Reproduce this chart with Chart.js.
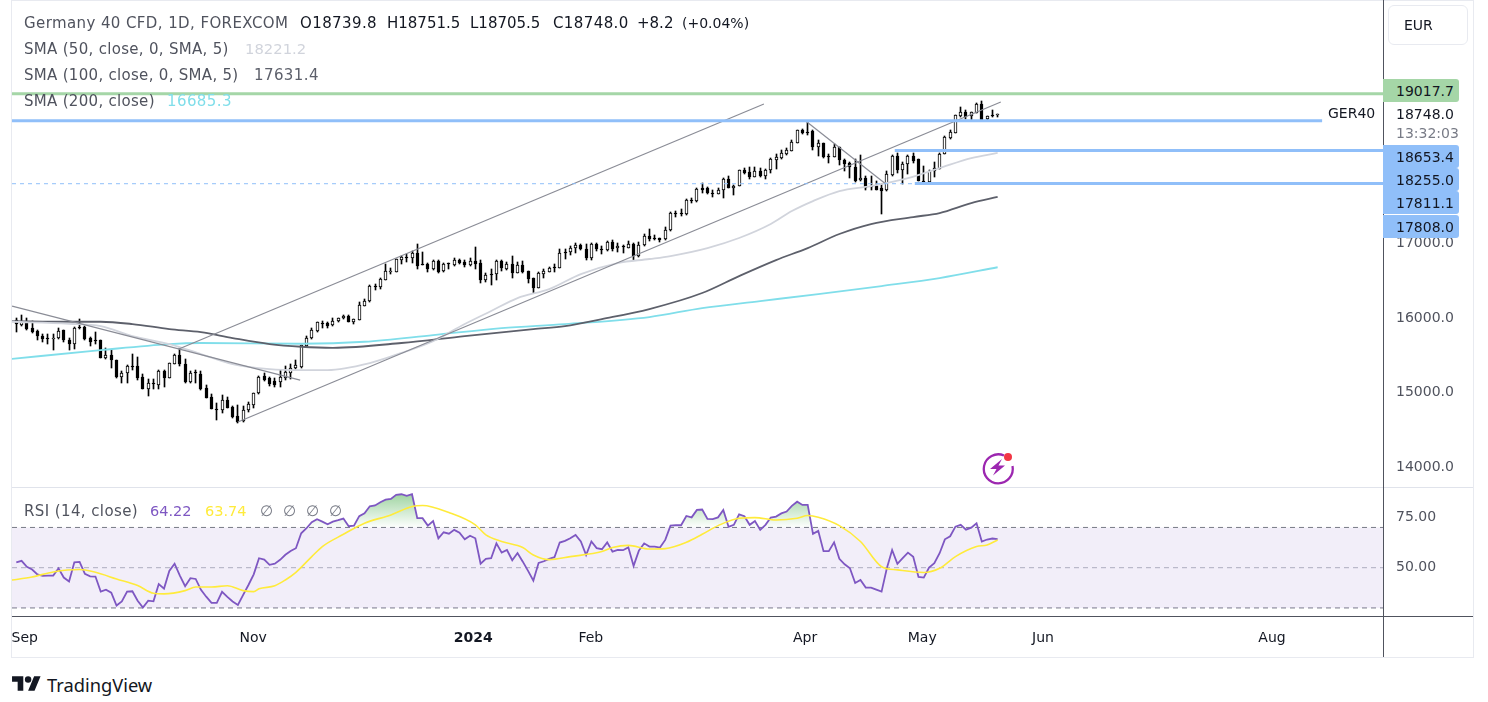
<!DOCTYPE html>
<html><head><meta charset="utf-8">
<script src="https://cdn.jsdelivr.net/npm/chart.js@4"></script>
<style>
html,body{margin:0;padding:0;background:#fff;width:1488px;height:702px;overflow:hidden}
body{position:relative;font-family:"DejaVu Sans",sans-serif;color:#131722}
canvas{position:absolute;display:block}
.t{position:absolute;white-space:nowrap;font-size:14px;line-height:20px;color:#50535e}
.line{position:absolute}
.tag{position:absolute;left:1383px;width:76px;height:23px;line-height:25px;font-size:14px;color:#131722;text-indent:13px;border-radius:0 3px 3px 0}
</style></head><body>
<canvas id="priceCanvas" style="left:12px;top:0" width="1461" height="487"></canvas>
<canvas id="rsiCanvas" style="left:12px;top:488px" width="1461" height="169"></canvas>
<div id="overlay"></div>
<script>
const opens=[15971,15909,15953,15873,15828,15761,15729,15729,15734,15837,15712,15649,15877,15886,15738,15707,15712,15465,15505,15434,15214,15264,15353,15353,15210,15053,15125,15102,15290,15192,15389,15505,15380,15147,15277,15250,15062,14936,14780,14771,14901,14807,14686,14618,14762,14838,14990,15219,15196,15156,15147,15201,15268,15326,15349,15626,15729,15828,15935,15931,15904,15957,15998,16029,15953,15980,16168,16226,16428,16423,16518,16630,16625,16786,16827,16804,16871,16728,16728,16656,16768,16630,16737,16710,16782,16759,16710,16768,16742,16513,16598,16589,16768,16665,16724,16612,16715,16630,16535,16410,16598,16625,16688,16679,16894,16885,16939,16983,16930,16813,16992,16930,16912,17024,16943,16974,16948,17001,16831,16979,17100,17082,17073,17059,17180,17409,17413,17400,17593,17570,17745,17749,17682,17673,17718,17866,17754,17776,17996,17960,17897,17973,17906,17991,18130,18153,18211,18251,18359,18524,18506,18515,18305,18359,18179,18170,18300,18121,18090,18027,17852,17888,17772,17772,17749,17718,17924,18179,17996,18067,18175,18135,17848,17834,17973,18009,18202,18426,18489,18717,18766,18717,18757,18874,18672,18726,18739.8];
const highs=[15998,16043,15998,15962,15837,15792,15792,15792,15873,15837,15738,15882,15989,15895,15747,15815,15712,15595,15568,15434,15290,15367,15514,15479,15255,15178,15178,15299,15299,15402,15523,15595,15447,15290,15299,15290,15102,14977,14856,14968,14941,14816,14833,14816,14878,14999,15223,15268,15210,15192,15299,15358,15380,15434,15635,15760,15863,15953,15962,15944,15998,16007,16043,16038,15993,16217,16253,16441,16455,16544,16733,16670,16800,16831,16858,16903,16992,16894,16737,16777,16777,16742,16746,16809,16795,16782,16804,16957,16786,16612,16656,16777,16777,16759,16836,16759,16768,16630,16535,16616,16656,16692,16724,16925,16925,16974,17010,17001,16992,17010,17010,16966,17033,17055,17010,16983,17037,17010,17028,17127,17194,17118,17082,17225,17422,17440,17463,17601,17619,17754,17812,17763,17727,17745,17879,17911,17790,17991,18023,18032,18036,18014,18005,18148,18202,18256,18291,18399,18529,18538,18641,18524,18394,18359,18211,18336,18305,18135,18103,18135,18193,17911,17911,17843,17807,17978,18188,18215,18103,18193,18220,18135,18045,17987,18103,18220,18448,18524,18730,18838,18793,18766,18892,18919,18721,18793,18751.5];
const lows=[15819,15895,15837,15801,15703,15680,15658,15577,15716,15685,15568,15591,15850,15703,15626,15649,15461,15447,15335,15192,15134,15134,15299,15165,15044,14954,15044,15044,15075,15192,15380,15358,15134,15134,15134,15031,14923,14775,14632,14730,14789,14663,14596,14609,14744,14798,14977,15156,15093,15075,15075,15174,15178,15313,15326,15613,15720,15819,15863,15872,15895,15953,15984,15949,15926,15980,16164,16222,16383,16392,16509,16589,16625,16733,16759,16746,16665,16719,16625,16652,16603,16625,16656,16706,16724,16692,16706,16661,16473,16491,16450,16518,16634,16643,16544,16607,16612,16477,16338,16405,16535,16616,16625,16674,16791,16849,16871,16916,16786,16786,16903,16858,16903,16903,16894,16871,16939,16786,16822,16966,17037,17046,17028,17055,17171,17364,17377,17391,17548,17566,17687,17669,17628,17664,17619,17745,17655,17772,17942,17866,17893,17897,17870,17951,18000,18135,18193,18247,18354,18480,18462,18260,18179,18157,18085,18166,18058,17978,17888,17834,17848,17718,17727,17718,17404,17713,17911,17955,17799,17942,18085,17843,17821,17825,17897,18005,18202,18412,18484,18704,18672,18650,18753,18650,18668,18704,18705.5];
const closes=[15918,15949,15850,15815,15756,15716,15720,15738,15824,15703,15649,15868,15868,15716,15685,15698,15470,15501,15434,15210,15259,15358,15344,15201,15053,15125,15111,15290,15192,15393,15505,15380,15143,15264,15268,15044,14932,14784,14771,14896,14798,14672,14609,14762,14847,14990,15214,15174,15116,15102,15205,15272,15326,15367,15635,15729,15841,15944,15926,15895,15957,15998,16029,15953,15984,16177,16231,16432,16419,16526,16630,16638,16791,16822,16809,16876,16701,16724,16656,16768,16625,16733,16728,16786,16746,16710,16768,16733,16513,16580,16589,16768,16670,16728,16612,16715,16621,16531,16401,16607,16634,16674,16674,16871,16876,16943,16988,16925,16804,17001,16925,16912,17024,16930,16970,16966,16992,16831,16983,17109,17068,17073,17055,17185,17413,17400,17404,17588,17584,17740,17722,17678,17673,17722,17866,17754,17781,17987,17955,17897,17978,17911,17996,18139,18161,18220,18256,18363,18524,18493,18497,18305,18354,18170,18170,18305,18121,18076,18032,17843,17879,17754,17763,17727,17713,17933,18175,17991,18072,18179,18112,17843,17839,17978,18014,18211,18439,18502,18726,18766,18704,18766,18878,18668,18713,18717,18748.0];

const sma50Idx=[-1,10,16,22,29,35,41,48,54,59,67,74,79,85,90,95,101,107,114,120,124,131,137,143,147,151,156,162,169,175,181,186];
const sma50Val=[15953,15926,15895,15761,15653,15519,15384,15317,15304,15304,15398,15559,15693,15922,16097,16271,16392,16594,16742,16796,16836,16943,17078,17266,17441,17575,17709,17777,17884,18019,18153,18221.2];
const sma100Idx=[-1,10,16,22,29,35,41,48,54,60,73,85,98,104,111,120,130,137,144,150,156,162,170,175,181,186];
const sma100Val=[15962,15953,15953,15922,15855,15814,15734,15653,15617,15603,15667,15761,15855,15895,15989,16124,16339,16567,16782,16943,17132,17266,17360,17414,17548,17631.4];
const sma200Idx=[-1,16,29,35,54,66,79,92,104,120,130,141,152,164,175,186];
const sma200Val=[15452,15572,15653,15667,15657,15684,15774,15868,15922,16016,16137,16231,16325,16433,16540,16685.3];

const trendA=[[30.8,15586],[141.7,18879]];
const trendB=[[42,14605],[186.6,18906]];
const trendC=[[-0.8,16164],[53.8,15169]];
const trendD=[[149.8,18641],[164.8,17804]];

const resistance=19017.7, levelA=18653.4, levelB=18255.0, levelC=17811.1, levelD=17808.0, lastClose=18748.0;
const priceTicks=[14000,15000,16000,17000];
const rsiTicks=[75,50];
const timeTickIdx=[1.6,44.9,86.6,108.9,149.5,171.7,194.6,238];
const timeTickLabels=['Sep','Nov','2024','Feb','Apr','May','Jun','Aug'];

const rsiVal=[52.7,53.4,50.4,49.1,46.7,45.9,46.1,46.1,49.7,45.1,43.1,52.7,52.9,46.9,45.7,45.6,38.1,39.1,37.6,31.2,33.2,38.1,38.3,33.6,30.2,33.6,33.3,41.9,39.6,48.4,52.0,46.1,40.8,44.8,44.4,39.0,35.6,32.5,32.5,38.0,35.5,33.2,31.5,36.5,41.4,46.7,54.7,54.0,51.4,52.0,53.9,56.4,58.3,59.7,67.1,69.6,72.6,74.1,72.9,71.6,72.9,73.6,74.4,70.6,70.9,75.6,77.0,80.5,80.9,82.5,83.8,84.2,86.2,86.5,85.7,86.5,74.6,74.6,70.9,73.2,64.6,67.6,66.9,68.8,67.4,64.1,65.9,64.6,52.0,54.4,54.7,62.1,57.5,58.8,53.7,57.3,53.0,48.4,43.6,52.4,53.2,54.4,55.2,62.5,63.3,64.6,66.3,63.0,56.3,63.0,59.7,59.2,62.6,58.0,58.8,58.7,60.1,50.9,58.5,62.1,60.5,60.5,60.0,63.8,70.9,71.1,71.1,75.7,75.0,78.7,78.9,74.2,74.1,75.0,78.7,70.3,71.3,76.5,75.6,71.3,73.2,68.8,71.3,74.9,75.4,77.0,77.9,80.7,82.8,81.2,81.2,66.8,68.3,58.2,58.2,62.6,54.4,51.7,49.7,42.4,43.9,40.1,40.1,39.1,38.1,49.7,58.8,51.9,54.7,57.5,55.4,45.4,45.1,50.1,52.2,57.2,64.1,65.6,70.4,71.3,68.9,69.9,72.1,63.0,64.0,64.5,64.22];
const rsiMaIdx=[-1,3,7,12,15,19,23,26,28,32,34,37,40,43,45,46,49,51,53,56,58,62,66,71,75,77,82,87,89,92,96,98,101,105,111,113,116,120,123,127,130,133,137,140,144,148,150,152,156,160,164,167,172,175,178,182,184,186];
const rsiMaVal=[43.8,45.4,47.9,49.1,47.7,44.4,41.1,37.3,37.0,38.6,40.4,40.4,41.0,38.6,38.1,39.5,41.0,43.9,47.7,55.5,60.5,66.6,72.1,76.2,80.4,80.9,77.4,71.3,66.3,63.0,60.0,56.3,54.0,55.5,58.0,60.0,61.1,59.3,59.5,62.6,66.6,70.9,74.6,74.9,73.7,74.6,75.9,75.1,70.9,63.0,50.5,48.9,47.6,49.7,55.5,60.5,61.3,63.74];
const rsiBand=[70,50,30];

const FONT='"DejaVu Sans",sans-serif';
const xMin=-0.815,xMax=259.04;
const pts=(xs,ys)=>xs.map((x,i)=>({x,y:ys[i]}));
const seg=a=>a.map(p=>({x:p[0],y:p[1]}));
const hline=(v,a,b)=>[{x:a,y:v},{x:b,y:v}];
const lineDs=(data,color,width,order,extra)=>Object.assign({type:'line',data,borderColor:color,borderWidth:width,pointRadius:0,order,fill:false,tension:0},extra||{});

const snap={id:'snap',afterDatasetsUpdate(chart){
  chart.data.datasets.forEach((d,di)=>{
    if(d.type==='line')return;
    chart.getDatasetMeta(di).data.forEach(el=>{
      el.x=Math.floor(el.x)+0.5;
      el.y=Math.round(el.y);el.base=Math.round(el.base);
      if(el.y===el.base)el.base=el.y+1;
    });
  });
}};

const hideX={type:'linear',min:xMin,max:xMax,offset:false,display:false,grid:{display:false}};
const fitY=s=>{s.width=90;s.paddingTop=0;s.paddingBottom=0;};

new Chart(document.getElementById('priceCanvas'),{
  type:'bar',
  plugins:[snap],
  data:{datasets:[
    lineDs(hline(resistance,xMin,xMax),'#a5d6a7',3,0),
    lineDs(hline(levelA,xMin,247.5),'#90bff9',3,0),
    lineDs(hline(levelB,166.5,xMax),'#90bff9',3,0),
    lineDs(hline(levelC,170.3,xMax),'#90bff9',3,0),
    lineDs(hline(levelD,xMin,170.3),'#90bff9',1,0,{borderDash:[4,4]}),
    lineDs(seg(trendA),'#8a8c96',1.2,1),
    lineDs(seg(trendB),'#8a8c96',1.2,1),
    lineDs(seg(trendC),'#8a8c96',1.2,1),
    lineDs(seg(trendD),'#8a8c96',1.2,1),
    lineDs(pts(sma50Idx,sma50Val),'#d1d4dc',1.8,2,{cubicInterpolationMode:'monotone'}),
    lineDs(pts(sma100Idx,sma100Val),'#5d606b',1.8,2,{cubicInterpolationMode:'monotone'}),
    lineDs(pts(sma200Idx,sma200Val),'#80deea',1.8,2,{cubicInterpolationMode:'monotone'}),
    {type:'bar',data:opens.map((o,i)=>({x:i,y:[o,closes[i]]})),barThickness:3,grouped:false,borderSkipped:false,borderWidth:1,borderColor:'#000',
      backgroundColor:opens.map((o,i)=>closes[i]>=o?'#fff':'#000'),order:3},
    {type:'bar',data:lows.map((l,i)=>({x:i,y:[l,highs[i]]})),barThickness:1,grouped:false,borderSkipped:false,borderWidth:0,backgroundColor:'#000',order:4}
  ]},
  options:{
    responsive:false,animation:false,devicePixelRatio:1,
    layout:{padding:0},
    plugins:{legend:{display:false},tooltip:{enabled:false}},
    scales:{
      x:hideX,
      y:{type:'linear',position:'right',min:13732,max:20277,
        grid:{display:false},border:{display:false},
        afterFit:fitY,
        afterBuildTicks:s=>{s.ticks=priceTicks.map(v=>({value:v}));},
        ticks:{autoSkip:false,padding:5,color:'#50535e',font:{family:FONT,size:14},callback:v=>v.toFixed(1)}
      }
    }
  }
});

const rsiCv=document.getElementById('rsiCanvas');
const grad=rsiCv.getContext('2d').createLinearGradient(0,5,0,40);
grad.addColorStop(0,'rgba(76,175,80,0.55)');
grad.addColorStop(1,'rgba(76,175,80,0)');

new Chart(rsiCv,{
  type:'line',
  data:{datasets:[
    lineDs(rsiVal.map((v,i)=>({x:i,y:v})),'#7e57c2',1.8,0,{fill:{value:rsiBand[0],above:grad,below:'rgba(0,0,0,0)'}}),
    lineDs(pts(rsiMaIdx,rsiMaVal),'#ffeb3b',1.6,-1,{cubicInterpolationMode:'monotone'}),
    lineDs(hline(rsiBand[0],xMin,xMax),'#787b86',1,2,{borderDash:[5,4],fill:'+2',backgroundColor:'rgba(126,87,194,0.1)'}),
    lineDs(hline(rsiBand[1],xMin,xMax),'#b2b5be',1,2,{borderDash:[5,4]}),
    lineDs(hline(rsiBand[2],xMin,xMax),'#787b86',1,2,{borderDash:[5,4]})
  ]},
  options:{
    responsive:false,animation:false,devicePixelRatio:1,
    layout:{padding:0},
    plugins:{legend:{display:false},tooltip:{enabled:false}},
    scales:{
      x:{type:'linear',min:xMin,max:xMax,offset:false,grid:{display:false},border:{display:false},
        afterFit:s=>{s.height=41;s.paddingLeft=0;s.paddingRight=0;},
        afterBuildTicks:s=>{s.ticks=timeTickIdx.map(v=>({value:v}));},
        ticks:{autoSkip:false,maxRotation:0,padding:6,color:'#131722',
          font:c=>({family:FONT,size:14,weight:c.index===2?'bold':'normal'}),
          callback:(v,i)=>timeTickLabels[i]}
      },
      y:{type:'linear',position:'right',min:26.0,max:89.6,grid:{display:false},border:{display:false},
        afterFit:fitY,
        afterBuildTicks:s=>{s.ticks=rsiTicks.map(v=>({value:v}));},
        ticks:{autoSkip:false,padding:5,color:'#50535e',font:{family:FONT,size:14},callback:v=>v.toFixed(2)}
      }
    }
  }
});

const ov=document.getElementById('overlay');
function text(x,cy,s,color,extra){const d=document.createElement('div');d.className='t';d.textContent=s;
  d.style.left=x+'px';d.style.top=(cy-10)+'px';if(color)d.style.color=color;if(extra)Object.assign(d.style,extra);ov.appendChild(d);}
function rule(l,t,w,h,c){const d=document.createElement('div');d.className='line';Object.assign(d.style,{left:l+'px',top:t+'px',width:w+'px',height:h+'px',background:c});ov.appendChild(d);}
function tag(top,v,c){const d=document.createElement('div');d.className='tag';d.textContent=v.toFixed(1);d.style.top=top+'px';d.style.background=c;ov.appendChild(d);}

rule(11,0,1,658,'#e8eaf0');rule(11,0,1463,1,'#e8eaf0');rule(1473,0,1,658,'#e8eaf0');rule(11,657,1463,1,'#e8eaf0');
rule(12,487,1461,1,'#e0e3eb');
rule(12,616,1461,1,'#50535e');
rule(1383,0,1,657,'#50535e');

tag(79,resistance,'#a5d6a7');
tag(145,levelA,'#90bff9');tag(168,levelB,'#90bff9');tag(191,levelC,'#90bff9');tag(215,levelD,'#90bff9');

const leg={fontSize:'15px',letterSpacing:'0.4px'};
const lab={fontSize:'15px',letterSpacing:'0.3px'};
const val={fontSize:'14.8px'};
const ink='#131722';
text(24,23,'Germany 40 CFD, 1D, FOREXCOM',null,leg);
text(300,23,'O18739.8',ink,leg);text(387,23,'H18751.5',ink,{fontSize:'15px'});text(470,23,'L18705.5',ink,{fontSize:'15px'});text(553,23,'C18748.0',ink,leg);text(637,23,'+8.2',ink,{fontSize:'15px'});text(682,23,'(+0.04%)',ink,{fontSize:'14px'});
text(24,49,'SMA (50, close, 0, SMA, 5)',null,lab);text(245,49,sma50Val[sma50Val.length-1].toFixed(1),'#d1d4dc',val);
text(24,75,'SMA (100, close, 0, SMA, 5)',null,lab);text(254,75,sma100Val[sma100Val.length-1].toFixed(1),'#5d606b',leg);
text(24,101,'SMA (200, close)',null,lab);text(167,101,sma200Val[sma200Val.length-1].toFixed(1),'#80deea',leg);
text(24,511,'RSI (14, close)',null,leg);text(150,511,rsiVal[rsiVal.length-1].toFixed(2),'#7e57c2',{fontSize:'14.5px'});text(205,511,rsiMaVal[rsiMaVal.length-1].toFixed(2),'#ffeb3b',{fontSize:'14.5px'});
['∅','∅','∅','∅'].forEach((s,i)=>text(260+i*23,511,s,'#787b86',{fontSize:'15px'}));
text(1328,113,'GER40',ink);
text(1396,114,lastClose.toFixed(1),ink);
text(1396,133,'13:32:03','#787b86');

const eur=document.createElement('div');
Object.assign(eur.style,{position:'absolute',left:'1388px',top:'5px',width:'78px',height:'38px',border:'1px solid #e8eaf0',borderRadius:'6px',lineHeight:'38px',fontSize:'14px',textIndent:'15px',color:'#131722',background:'#fff'});
eur.textContent='EUR';ov.appendChild(eur);

ov.insertAdjacentHTML('beforeend',`
<svg style="position:absolute;left:12px;top:672.8px" width="29" height="22.5" viewBox="0 0 36 28"><path fill="#131722" d="M14 22H7V11H0V4h14v18zM28 22h-8l7.5-18h8L28 22z"/><circle fill="#131722" cx="20" cy="8" r="4"/></svg>
<svg style="position:absolute;left:980px;top:449px" width="36" height="36" viewBox="0 0 36 36"><path d="M24 6.5A14.5 14.5 0 1 0 32.5 17" fill="none" stroke="#9c27b0" stroke-width="2.3"/><path d="M22 10L10 20h6.5l-3.5 6.5 12-10h-6.5z" fill="#9c27b0"/><circle cx="28" cy="8" r="4" fill="#f23645"/></svg>`);
text(47,685,'TradingView',ink,{fontSize:'18.3px',fontFamily:'"Noto Sans",sans-serif'});
</script>
</body></html>
